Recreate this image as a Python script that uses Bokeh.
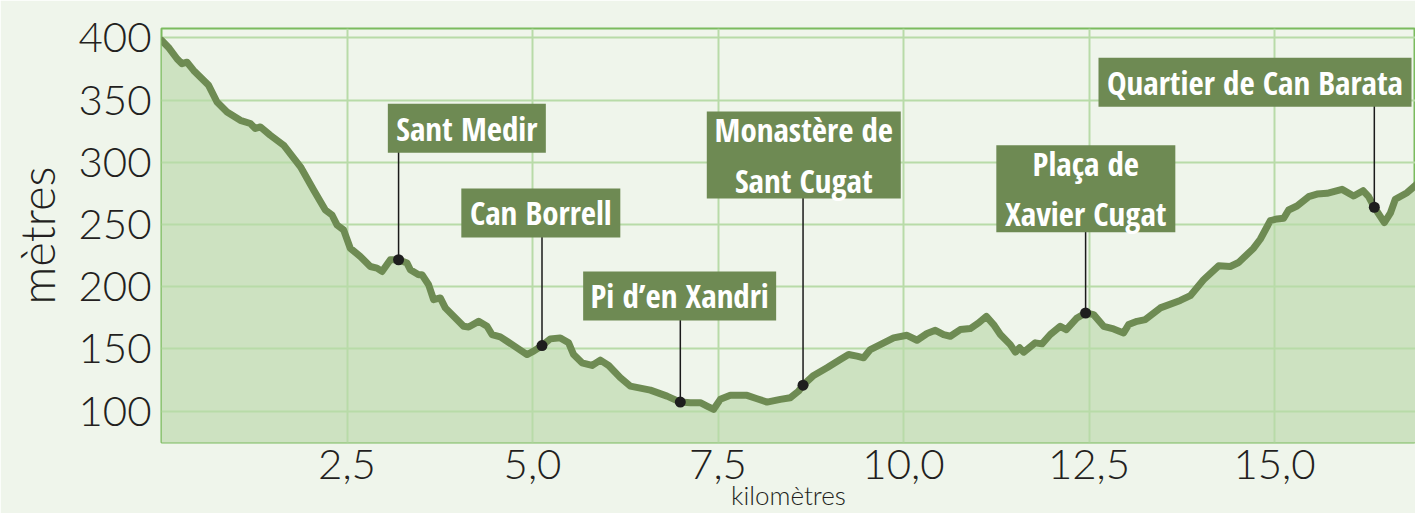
from bokeh.plotting import figure
from bokeh.models import Range1d, FixedTicker
from bokeh.embed import file_html
from bokeh.resources import INLINE
from bokeh.core.properties import value

# ---- data: elevation profile (km, metres) ----
km = [0.0, 0.092, 0.209, 0.276, 0.344, 0.433, 0.635, 0.748, 0.883, 1.062, 1.197, 1.264,
      1.332, 1.466, 1.646, 1.873, 2.050, 2.208, 2.298, 2.365, 2.454, 2.544, 2.679, 2.814,
      2.904, 2.972, 3.084, 3.195, 3.309, 3.353, 3.465, 3.511, 3.600, 3.667, 3.757, 3.825,
      4.071, 4.139, 4.274, 4.387, 4.454, 4.566, 4.656, 4.926, 5.015, 5.128, 5.240, 5.375,
      5.487, 5.554, 5.667, 5.802, 5.914, 6.026, 6.183, 6.318, 6.588, 6.813, 6.992, 7.127,
      7.261, 7.352, 7.441, 7.531, 7.666, 7.891, 8.026, 8.160, 8.340, 8.474, 8.586, 8.646,
      8.789, 8.969, 9.148, 9.260, 9.373, 9.462, 9.553, 9.687, 9.867, 10.047, 10.182, 10.317,
      10.429, 10.540, 10.631, 10.765, 10.900, 11.012, 11.116, 11.214, 11.305, 11.439, 11.507,
      11.565, 11.619, 11.776, 11.866, 11.978, 12.113, 12.194, 12.338, 12.454, 12.562, 12.697,
      12.831, 12.966, 13.034, 13.147, 13.259, 13.461, 13.730, 13.865, 14.044, 14.247, 14.404,
      14.516, 14.718, 14.808, 14.943, 15.034, 15.123, 15.190, 15.303, 15.460, 15.573, 15.708,
      15.910, 16.066, 16.193, 16.268, 16.345, 16.480, 16.561, 16.628, 16.786, 16.921, 17.006,
      17.08]
elev = [398.0, 392.5, 383.2, 379.2, 380.4, 373.8, 361.8, 348.4, 340.4, 333.7, 331.1, 327.1,
        328.4, 321.7, 313.7, 296.3, 277.6, 261.6, 257.6, 249.6, 245.6, 230.9, 224.2, 216.2,
        214.9, 212.2, 221.6, 221.6, 218.9, 213.5, 209.5, 209.5, 201.5, 189.5, 190.9, 182.9,
        168.1, 167.6, 172.1, 168.1, 161.5, 159.6, 156.1, 145.4, 148.1, 152.6, 158.0, 158.8,
        154.8, 145.4, 138.8, 136.6, 140.9, 136.6, 126.8, 120.0, 116.8, 112.0, 107.2, 106.7,
        106.7, 104.0, 101.4, 109.4, 112.6, 112.6, 109.9, 107.2, 109.4, 110.7, 116.0, 120.8,
        128.6, 134.8, 141.4, 145.4, 144.1, 142.8, 149.4, 153.4, 158.8, 160.9, 156.9, 162.3,
        164.9, 161.5, 160.1, 165.5, 166.3, 170.8, 176.1, 169.5, 161.5, 153.4, 147.3,
        150.8, 147.3, 154.8, 154.0, 161.5, 168.1, 165.5, 174.8, 178.8, 177.5, 168.1,
        166.0, 162.8, 169.5, 172.1, 173.5, 182.9, 188.9, 192.7, 205.5, 216.7, 216.2,
        219.4, 230.9, 238.1, 253.0, 254.4, 255.0, 261.6, 264.8, 272.3, 274.4, 275.0,
        278.2, 272.8, 277.1, 272.3, 263.8, 251.4, 259.0, 270.2, 275.5, 282.5, 289.7,
        295.0]

# ---- points of interest ----
poi_names = ["Sant Medir", "Can Borrell", "Pi d\u2019en Xandri", "Monast\u00e8re de\nSant Cugat",
             "Pla\u00e7a de\nXavier Cugat", "Quartier de Can Barata"]
poi_km = [3.195, 5.128, 6.992, 8.646, 12.454, 16.345]
poi_elev = [221.6, 152.6, 107.2, 120.8, 178.8, 263.8]

# ---- label box layout (centre in data units, size in px) ----
box_x = [4.115, 5.112, 6.983, 8.656, 12.457, 14.737]
box_y = [327.3, 259.2, 192.5, 305.9, 278.7, 364.2]
box_w = [158, 159, 193, 194, 179, 313]
box_h = [49, 49, 49, 87, 87, 49]

x_ticks = [2.5, 5.0, 7.5, 10.0, 12.5, 15.0]
x_tick_labels = ["2,5", "5,0", "7,5", "10,0", "12,5", "15,0"]
y_ticks = [100, 150, 200, 250, 300, 350, 400]

BG = "#eff5eb"
FILL = "#cde2c1"
GRID = "#b8dba8"
LINE = "#6e8b53"
BOX = "#6e8a53"
TXT = "#231f20"
TICK_FONT = "Lato Light, Lato"
BOX_FONT = "Open Sans Condensed, Roboto Condensed"

p = figure(width=1415, height=513,
           x_range=Range1d(0, 16.90), y_range=Range1d(74.7, 407.5),
           output_backend="svg", toolbar_location=None,
           min_border_left=161, min_border_right=0, min_border_top=28, min_border_bottom=70)
p.background_fill_color = BG
p.border_fill_color = BG
p.outline_line_color = "#7bbb5e"
p.outline_line_width = 2

# grids
p.xgrid.ticker = FixedTicker(ticks=x_ticks)
p.ygrid.ticker = FixedTicker(ticks=y_ticks)
for g in (p.xgrid, p.ygrid):
    g.grid_line_color = GRID
    g.grid_line_width = 2

# axes
p.xaxis.ticker = FixedTicker(ticks=x_ticks)
p.xaxis.major_label_overrides = {t: l for t, l in zip(x_ticks, x_tick_labels)}
p.yaxis.ticker = FixedTicker(ticks=y_ticks)
for ax in (p.xaxis, p.yaxis):
    ax.axis_line_color = None
    ax.major_tick_line_color = None
    ax.minor_tick_line_color = None
    ax.major_tick_out = 0
    ax.major_tick_in = 0
    ax.major_label_text_font = TICK_FONT
    ax.major_label_text_font_size = "42px"
    ax.major_label_text_color = TXT
    ax.axis_label_text_font = TICK_FONT
    ax.axis_label_text_font_style = "normal"
    ax.axis_label_text_color = TXT
p.xaxis.major_label_standoff = 7
p.yaxis.major_label_standoff = 10
p.yaxis.axis_label = "m\u00e8tres"
p.yaxis.axis_label_text_font_size = "47px"
p.yaxis.axis_label_standoff = 10
# the original's x title sits at the very bottom edge; kept smaller so it stays inside
p.xaxis.axis_label = "kilom\u00e8tres"
p.xaxis.axis_label_text_font_size = "26px"
p.xaxis.axis_label_standoff = -3

# profile
p.varea(x=km, y1=0, y2=elev, fill_color=FILL, level="image")
p.line(km, elev, line_width=7, line_color=LINE, line_join="round", line_cap="round")

# leaders, markers, boxes
p.segment(x0=poi_km, y0=poi_elev, x1=poi_km, y1=box_y, line_color="#1a1a1a", line_width=1.5)
p.scatter(poi_km, poi_elev, size=11, fill_color="#1e1e1e", line_color=None)
p.rect(x=box_x, y=box_y, width=box_w, height=box_h, width_units="screen", height_units="screen",
       fill_color=BOX, line_color=None)
p.text(x=box_x, y=box_y, text=poi_names, text_align="center", text_baseline="middle",
       text_color="white", text_font=value(BOX_FONT), text_font_style="bold",
       text_font_size="33px", text_line_height=1.12)

open("out.html", "w").write(file_html(p, INLINE))
